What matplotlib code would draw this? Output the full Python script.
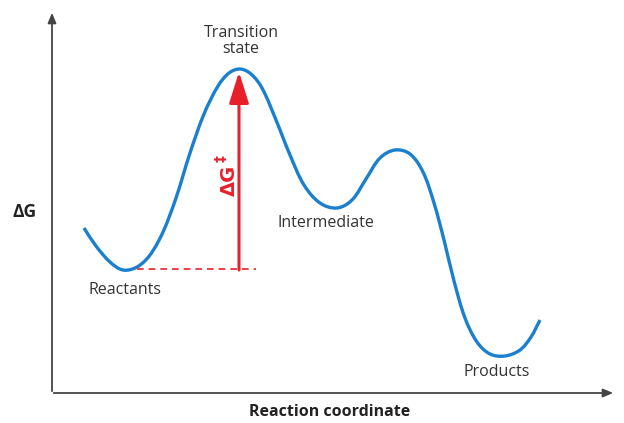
import matplotlib
matplotlib.use("Agg")
from matplotlib import pyplot as plt
from matplotlib.path import Path
from matplotlib.patches import PathPatch
import numpy as np

plt.rcParams['font.family'] = ['Open Sans', 'DejaVu Sans']

# energy profile (pixel-like units, y grows downward)
curve_x = [84, 96, 110, 123, 137, 150, 163, 176, 190, 204, 218, 229, 240, 251, 262, 276,
           290, 304, 320, 337, 352, 366, 380, 395, 410, 423, 434, 444, 454, 465, 477,
           490, 505, 520, 531, 540]
curve_y = [228, 246, 262, 270, 267, 255, 232, 198, 153, 114, 86, 73, 69, 74, 88, 120,
           155, 185, 203, 208, 200, 179, 158, 150, 154, 172, 203, 240, 281, 318, 342,
           354, 356, 350, 337, 320]

reactant_x, reactant_y = 125, 269
ts_x, ts_y = 239, 72

labels = ["Transition\nstate", "Intermediate", "Reactants", "Products"]
label_pos = [(241, 41), (326, 223), (125, 290), (497, 372)]

fig = plt.figure(figsize=(6.24, 4.23), dpi=100)
ax = fig.add_axes([0, 0, 1, 1])
ax.set_xlim(0, 624)
ax.set_ylim(423, 0)
ax.axis('off')

axis_col = '#444444'
# axes with arrows
ax.annotate('', xy=(52, 10), xytext=(52, 394),
            arrowprops=dict(arrowstyle='-|>,head_length=0.6,head_width=0.25', color=axis_col, lw=1.3))
ax.annotate('', xy=(616, 393), xytext=(51, 393),
            arrowprops=dict(arrowstyle='-|>,head_length=0.6,head_width=0.25', color=axis_col, lw=1.3))

# smooth bezier path through the read points (tangent = neighbour direction)
pts = np.column_stack([curve_x, curve_y]).astype(float)
n = len(pts)
dirs = []
for i in range(n):
    a = pts[max(i - 1, 0)]
    b = pts[min(i + 1, n - 1)]
    d = b - a
    dirs.append(d / np.hypot(*d))
verts = [tuple(pts[0])]
codes = [Path.MOVETO]
for i in range(n - 1):
    L = np.hypot(*(pts[i + 1] - pts[i]))
    verts += [tuple(pts[i] + dirs[i] * L / 3), tuple(pts[i + 1] - dirs[i + 1] * L / 3),
              tuple(pts[i + 1])]
    codes += [Path.CURVE4] * 3
ax.add_patch(PathPatch(Path(verts, codes), facecolor='none', edgecolor='#1a7fcf', lw=2.4,
                       capstyle='butt'))

red = '#e8202a'
ax.plot([reactant_x + 12, 256], [reactant_y, reactant_y], color=red, lw=1.2, ls=(0, (4, 3)))
ax.annotate('', xy=(ts_x, ts_y), xytext=(ts_x, reactant_y + 1),
            arrowprops=dict(arrowstyle='-|>,head_length=1.9,head_width=0.6', color=red, lw=2.2,
                            shrinkA=0, shrinkB=0))
ax.text(229, 180, 'ΔG', rotation=90, color=red, fontsize=14, fontweight='bold',
        ha='center', va='center', family=['DejaVu Sans'])
ax.text(221, 159, '‡', rotation=90, color=red, fontsize=10, fontweight='bold',
        ha='center', va='center', family=['DejaVu Sans'])

txt_col = '#333333'
for lab, (x, y) in zip(labels, label_pos):
    ax.text(x, y, lab, ha='center', va='center', fontsize=11.5, color=txt_col, linespacing=1.05)

ax.text(25, 212, 'ΔG', ha='center', va='center', fontsize=12.5, fontweight='bold', color='#222222')
ax.text(330, 412, 'Reaction coordinate', ha='center', va='center', fontsize=11.5,
        fontweight='bold', color='#222222')

fig.savefig('out.png', dpi=100)
